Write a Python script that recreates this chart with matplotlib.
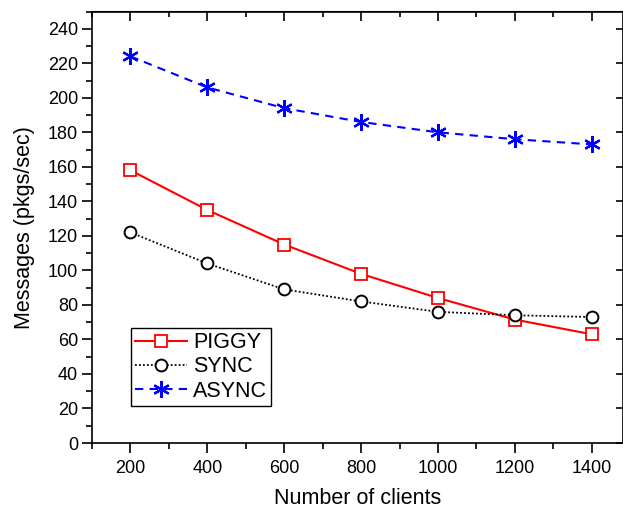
import matplotlib
matplotlib.use("Agg")
import matplotlib.pyplot as plt
from matplotlib.ticker import MultipleLocator, NullLocator

plt.rcParams['font.family'] = ['Liberation Sans', 'DejaVu Sans']

clients = [200, 400, 600, 800, 1000, 1200, 1400]
piggy = [158, 135, 115, 98, 84, 71.5, 63]
sync = [122, 104, 89, 82, 76, 74, 73]
async_ = [224, 206, 194, 186, 180, 176, 173]

fig = plt.figure(figsize=(6.23, 5.09), dpi=100)
ax = fig.add_axes([92/623, 66/509, 530.5/623, 431.5/509])

ax.plot(clients, piggy, color='red', ls='-', lw=1.5, marker='s', ms=8,
        mfc='white', mec='red', mew=1.3, label='PIGGY')
ax.plot(clients, sync, color='black', ls=(0, (1, 1.2)), lw=1.3, marker='o', ms=8.5,
        mfc='white', mec='black', mew=1.4, label='SYNC')
ax.plot(clients, async_, color='blue', ls=(0, (4, 3)), lw=1.5, marker=(6, 2, 0), ms=12,
        mfc='blue', mec='blue', mew=1.6, label='ASYNC')

ax.set_xlim(100, 1480)
ax.set_ylim(0, 250)
ax.xaxis.set_major_locator(MultipleLocator(200))
ax.xaxis.set_minor_locator(MultipleLocator(100))
ax.set_yticks(range(0, 241, 20))
ax.yaxis.set_minor_locator(MultipleLocator(10))

for s in ax.spines.values():
    s.set_linewidth(1.2)

ax.tick_params(which='both', direction='out', top=False, right=False, labelsize=13, width=1.2)
ax.tick_params(which='major', length=7)
ax.tick_params(which='minor', length=4)
ax.tick_params(axis='x', which='major', pad=5)
ax.tick_params(axis='y', which='major', pad=3)

# mirror ticks on top/right pointing inward
ax2 = ax.secondary_xaxis('top')
ax2.xaxis.set_major_locator(MultipleLocator(200))
ax2.xaxis.set_minor_locator(MultipleLocator(100))
ax2.tick_params(which='both', direction='in', labeltop=False, width=1.2)
ax2.tick_params(which='major', length=7)
ax2.tick_params(which='minor', length=4)
ax3 = ax.secondary_yaxis('right')
ax3.set_yticks(range(0, 241, 20))
ax3.yaxis.set_minor_locator(NullLocator())
ax3.tick_params(which='both', direction='in', labelright=False, width=1.2)
ax3.tick_params(which='major', length=5)

ax.set_xlabel('Number of clients', fontsize=15.5)
ax.set_ylabel('Messages (pkgs/sec)', fontsize=15.5)
ax.xaxis.set_label_coords(0.5, -0.105)
ax.yaxis.set_label_coords(-0.108, 0.5)

leg = ax.legend(loc='lower left', bbox_to_anchor=(0.073, 0.086), fontsize=15.5,
                frameon=True, fancybox=False, edgecolor='black', handlelength=2.4,
                borderpad=0.2, labelspacing=0.15, handletextpad=0.3, borderaxespad=0,
                framealpha=1)
leg.get_frame().set_linewidth(1.0)

fig.savefig('out.png', dpi=100)
